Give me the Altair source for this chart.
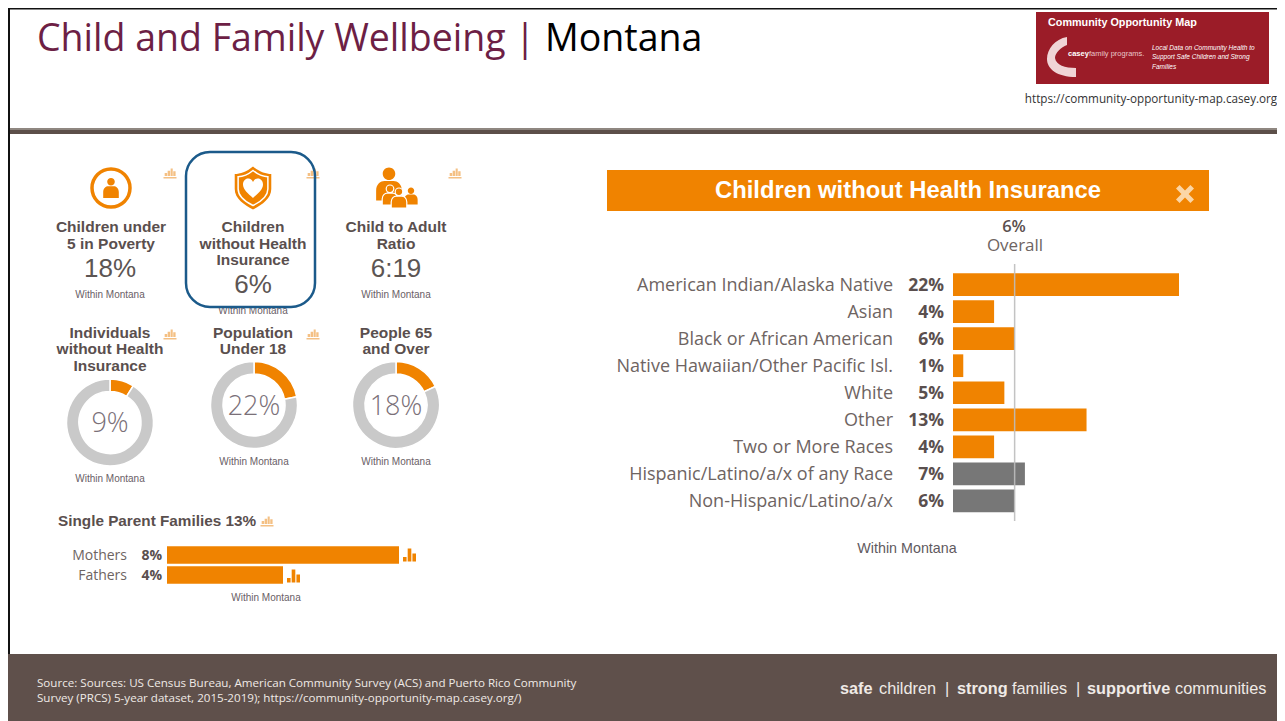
import altair as alt

# ---------- values ----------
race_groups = ["American Indian/Alaska Native", "Asian", "Black or African American",
               "Native Hawaiian/Other Pacific Isl.", "White", "Other", "Two or More Races",
               "Hispanic/Latino/a/x of any Race", "Non-Hispanic/Latino/a/x"]
race_values = [22, 4, 6, 1, 5, 13, 4, 7, 6]
race_kind = ["race"] * 7 + ["ethnicity"] * 2
overall_value = 6
parents = ["Mothers", "Fathers"]
parent_values = [8, 4]
donut_values = [9, 22, 18]

# ---------- palette ----------
ORANGE = "#f08300"; PALE = "#f4c084"; GREY = "#777777"; HEAD = "#5a4f4e"; BODY = "#6e6462"
BROWN = "#5f504b"; FOOT = "#efeae6"; RED = "#9b1c28"; WHITE = "#ffffff"
SANS = "Liberation Sans"; OPEN = "Open Sans"
W, H, M = 1269, 713, 8   # chart size and page margin; layout below is in page pixels
R = M + W                # right edge of the drawable page area

one = alt.Data(values=[{"a": 0}])
layers = []

def px(v):
    return alt.value(v - M)

def box(x0, y0, x1, y1, color, **kw):
    layers.append(alt.Chart(one).mark_rect(color=color, **kw).encode(
        x=px(x0), x2=px(x1), y=px(y0), y2=px(y1)))

def label(text, x, y, size, color=HEAD, font=SANS, weight="normal", align="center", **kw):
    layers.append(alt.Chart(one).mark_text(
        fontSize=size, color=color, font=font, fontWeight=weight, align=align,
        baseline="middle", **kw).encode(x=px(x), y=px(y), text=alt.value(text)))

def glyph(path, x, y, d, color, **kw):
    layers.append(alt.Chart(one).mark_point(
        shape=path, size=d * d, filled=True, fill=color, stroke=None, opacity=1, **kw
    ).encode(x=px(x), y=px(y)))

CHART_ICON = ("M-1 0.78H1V1H-1Z M-0.82 0.15H-0.44V0.62H-0.82Z M-0.36 -0.2H0.02V0.62H-0.36Z "
              "M0.1 -0.55H0.42V0.62H0.1Z M0.5 -0.1H0.86V0.62H0.5Z")
BARS_ICON = "M-1 0.3H-0.45V1H-1Z M-0.28 -1H0.28V1H-0.28Z M0.45 -0.25H1V1H0.45Z"
PERSON = ("M-0.38 -0.62A0.38 0.38 0 1 1 0.38 -0.62A0.38 0.38 0 1 1 -0.38 -0.62Z "
          "M-0.78 1V0.4C-0.78 0 -0.5 -0.18 -0.28 -0.18H0.28C0.5 -0.18 0.78 0 0.78 0.4V1Z")
SHIELD = ("M0 -1C0.3 -0.75 0.6 -0.65 0.85 -0.65V0.05C0.85 0.5 0.4 0.8 0 1"
          "C-0.4 0.8 -0.85 0.5 -0.85 0.05V-0.65C-0.6 -0.65 -0.3 -0.75 0 -1Z")
HEART = ("M0 1C-0.5 0.55 -1 0.15 -1 -0.35C-1 -0.75 -0.7 -1 -0.45 -0.95C-0.25 -0.95 -0.1 -0.8 0 -0.6"
         "C0.1 -0.8 0.25 -0.95 0.45 -0.95C0.7 -1 1 -0.75 1 -0.35C1 0.15 0.5 0.55 0 1Z")
CROSS = "M-1 -0.6L-0.6 -1L0 -0.4L0.6 -1L1 -0.6L0.4 0L1 0.6L0.6 1L0 0.4L-0.6 1L-1 0.6L-0.4 0Z"
SWOOSH = ("M0 -1C-0.6 -0.9 -1 -0.4 -1 0.1C-1 0.6 -0.5 1 0.45 1L0.45 0.55"
          "C-0.1 0.55 -0.55 0.4 -0.6 0.05C-0.6 -0.2 -0.3 -0.5 0 -0.6Z")

# ---------- slide frame ----------
box(8, 8, R, 9.5, "#111111")
box(8, 8, 10, 721, "#111111")
box(10, 128, R, 130, "#8f8781")
box(10, 130, R, 134, "#5c4f49")
box(8, 654, R, 721, BROWN)

# ---------- header ----------
label("Child and Family Wellbeing", 37, 39.5, 37.5, color="#6d1f45", font=OPEN, align="left")
label("|", 525, 39.5, 37.5, color="#6d1f45", font=OPEN)
label("Montana", 545, 39.5, 37.5, color="#000000", font=OPEN, align="left")

box(1036, 12, 1269, 84, RED)
label("Community Opportunity Map", 1048, 22.5, 10.8, color=WHITE, weight="bold", align="left")
glyph(SWOOSH, 1067, 57, 40, "#f0d4d6")
label("casey", 1068, 54, 7.5, color=WHITE, weight="bold", align="left")
label("family programs.", 1089, 54, 7.5, color="#e9c7ca", align="left")
for line, yy in zip(["Local Data on Community Health to", "Support Safe Children and Strong", "Families"],
                    [48, 57, 67]):
    label(line, 1152, yy, 6.5, color=WHITE, align="left", fontStyle="italic")
label("https://community-opportunity-map.casey.org", 1151, 98.5, 11.7, color="#333333", font=OPEN)

# ---------- top KPI tiles ----------
glyph(CHART_ICON, 170, 172, 13, PALE)
glyph(CHART_ICON, 313, 172, 13, PALE)
glyph(CHART_ICON, 455, 172, 13, PALE)
glyph(CHART_ICON, 170, 333, 13, PALE)
glyph(CHART_ICON, 313, 333, 13, PALE)
glyph(CHART_ICON, 267, 520, 13, PALE)

layers.append(alt.Chart(one).mark_point(shape="circle", size=1444, filled=False,
                                        stroke=ORANGE, strokeWidth=3.5, opacity=1)
              .encode(x=px(111), y=px(188)))
glyph(PERSON, 111, 188, 20, ORANGE)

glyph(SHIELD, 253, 188, 43, ORANGE)
layers.append(alt.Chart(one).mark_point(shape=SHIELD, size=35 * 35, filled=False,
                                        stroke=WHITE, strokeWidth=1.5, opacity=1)
              .encode(x=px(253), y=px(188)))
glyph(HEART, 253, 188, 20, WHITE)

glyph(PERSON, 389, 184, 33, ORANGE)
glyph(PERSON, 411, 196, 17, ORANGE)
for cx, cy, d in [(390, 195, 20), (399, 198, 20)]:
    layers.append(alt.Chart(one).mark_point(shape=PERSON, size=d * d, filled=True, fill=ORANGE,
                                            stroke=WHITE, strokeWidth=1.2, opacity=1)
                  .encode(x=px(cx), y=px(cy)))

for line, xx, yy in [("Children under", 111, 227), ("5 in Poverty", 111, 244),
                     ("Children", 253, 227), ("without Health", 253, 244), ("Insurance", 253, 260),
                     ("Child to Adult", 396, 227), ("Ratio", 396, 244),
                     ("Individuals", 110, 333), ("without Health", 110, 349), ("Insurance", 110, 366),
                     ("Population", 253, 333), ("Under 18", 253, 349),
                     ("People 65", 396, 333), ("and Over", 396, 349)]:
    label(line, xx, yy, 15.5, weight="bold")
for line, xx, yy in [("18%", 110, 268.5), ("6%", 253, 284.5), ("6:19", 396, 268.5)]:
    label(line, xx, yy, 26, color="#5c5553")
for xx, yy in [(110, 295), (253, 311), (396, 295), (110, 479), (254, 462), (396, 462), (266, 598)]:
    label("Within Montana", xx, yy, 10, color="#6a6066")

layers.append(alt.Chart(one).mark_rect(cornerRadius=24, fillOpacity=0, stroke="#1b5a8a", strokeWidth=2.5)
              .encode(x=px(186), x2=px(315), y=px(152), y2=px(307)))

# ---------- donuts ----------
for value, cx, cy in zip(donut_values, [110, 254, 396], [422.5, 405, 405]):
    rows = [{"part": "share", "order": 0, "value": value},
            {"part": "rest", "order": 1, "value": 100 - value}]
    layers.append(alt.Chart(alt.Data(values=rows)).mark_arc(
        outerRadius=43.5, innerRadius=31, stroke=WHITE, strokeWidth=1.5).encode(
        theta=alt.Theta("value:Q", stack=True, scale=alt.Scale(domain=[0, 100], range=[0, 6.28318])),
        order=alt.Order("order:Q"),
        color=alt.Color("part:N", legend=None,
                        scale=alt.Scale(domain=["share", "rest"], range=[ORANGE, "#c9c9c9"])),
        x=px(cx), y=px(cy)))
    label(f"{value}%", cx, cy + 1.5, 27, color="#7a7078", font=OPEN, weight=300)

# ---------- single parent families ----------
label("Single Parent Families 13%", 58, 521, 15.3, weight="bold", align="left")
parent_rows = [{"who": w, "value": v, "text": f"{v}%"} for w, v in zip(parents, parent_values)]
parent_y = alt.Y("who:N", axis=None, sort=None,
                 scale=alt.Scale(domain=parents, range=[545 - M, 585 - M], paddingInner=0.12, paddingOuter=0.06))
parent_x = alt.X("value:Q", axis=None, scale=alt.Scale(domain=[0, 8], range=[167 - M, 399 - M]))
pdata = alt.Data(values=parent_rows)
layers.append(alt.Chart(pdata).mark_bar(color=ORANGE).encode(x=parent_x, y=parent_y))
layers.append(alt.Chart(pdata).mark_text(align="right", baseline="middle", font=OPEN, fontSize=14, color=BODY, dy=1)
              .encode(x=px(127), y=parent_y, text="who:N"))
layers.append(alt.Chart(pdata).mark_text(align="right", baseline="middle", font=OPEN, fontSize=14,
                                         fontWeight="bold", color=HEAD, dy=1)
              .encode(x=px(162), y=parent_y, text="text:N"))
glyph(BARS_ICON, 409.5, 555, 13, ORANGE)
glyph(BARS_ICON, 293.5, 576, 13, ORANGE)

# ---------- main bar panel ----------
box(607, 170, 1209, 211, ORANGE)
label("Children without Health Insurance", 908, 191, 23.8, color=WHITE, weight="bold")
glyph(CROSS, 1185, 194, 18, "#fbd6a6")
label(f"{overall_value}%", 1014, 227, 16.5, color=HEAD, font=OPEN, weight=600)
label("Overall", 1015, 246, 17, color=BODY, font=OPEN)
label("Within Montana", 907, 549, 14.3, color="#5f5a60")

race_rows = [{"group": g, "value": v, "kind": k, "text": f"{v}%"}
             for g, v, k in zip(race_groups, race_values, race_kind)]
rdata = alt.Data(values=race_rows)
race_y = alt.Y("group:N", axis=None, sort=None,
               scale=alt.Scale(domain=race_groups, range=[271 - M, 514.5 - M], paddingInner=0.16, paddingOuter=0.08))
race_x = alt.X("value:Q", axis=None, scale=alt.Scale(domain=[0, 22], range=[953 - M, 1179 - M]))
layers.append(alt.Chart(rdata).mark_bar().encode(
    x=race_x, y=race_y,
    color=alt.Color("kind:N", legend=None,
                    scale=alt.Scale(domain=["race", "ethnicity"], range=[ORANGE, GREY]))))
layers.append(alt.Chart(rdata).mark_text(align="right", baseline="middle", font=OPEN, fontSize=18, color=BODY, dy=1)
              .encode(x=px(893), y=race_y, text="group:N"))
layers.append(alt.Chart(rdata).mark_text(align="right", baseline="middle", font=OPEN, fontSize=17.5,
                                         fontWeight="bold", color=HEAD, dy=1)
              .encode(x=px(944), y=race_y, text="text:N"))
layers.append(alt.Chart(alt.Data(values=[{"value": overall_value}])).mark_rule(color="#bdbdbd", strokeWidth=1.5, opacity=0.9)
              .encode(x=race_x, y=px(264), y2=px(521)))

# ---------- footer ----------
label("Source: Sources: US Census Bureau, American Community Survey (ACS) and Puerto Rico Community",
      37, 684, 11.6, color=FOOT, font=OPEN, align="left")
label("Survey (PRCS) 5-year dataset, 2015-2019); https://community-opportunity-map.casey.org/)",
      37, 699, 11.6, color=FOOT, font=OPEN, align="left")
for word, xx, bold in [("safe", 840, True), ("children", 879, False), ("|", 945, False),
                       ("strong", 957, True), ("families", 1012, False), ("|", 1076, False),
                       ("supportive", 1087, True), ("communities", 1175, False)]:
    label(word, xx, 688.5, 16.3, color=FOOT, weight="bold" if bold else "normal", align="left")

chart = alt.layer(*layers).resolve_scale(
    x="independent", y="independent", color="independent", theta="independent"
).properties(width=W, height=H, padding=0, autosize=alt.AutoSizeParams(type="none"),
             background=WHITE).configure_view(stroke=None)

chart.save("out.html", embed_options={"renderer": "svg", "actions": False})
